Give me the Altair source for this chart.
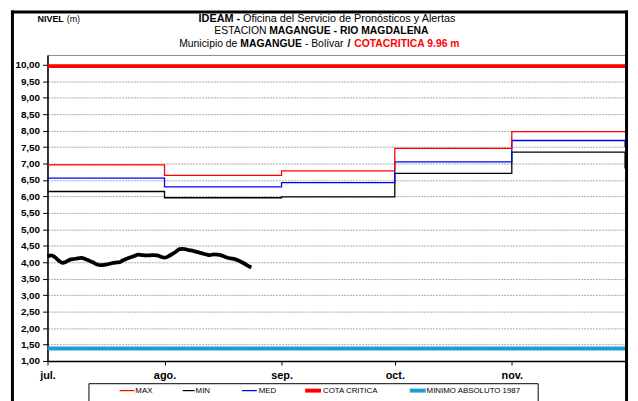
import altair as alt
import pandas as pd

FONT = "Liberation Sans, Arial, sans-serif"
BFONT = "Liberation Sans, Arial, sans-serif"

# ---- data ----
month_days = [0, 31, 62, 92, 123, 153]
month_labels = ["jul.", "ago.", "sep.", "oct.", "nov."]
max_vals = [6.96, 6.64, 6.78, 7.46, 7.97, 7.94]
med_vals = [6.56, 6.29, 6.42, 7.05, 7.70, 7.50]
min_vals = [6.15, 5.96, 5.99, 6.70, 7.35, 6.85]
cota_critica = 9.96
minimo_absoluto = 1.38
observed = [4.18, 4.21, 4.15, 4.05, 3.98, 4.02, 4.08, 4.10, 4.12, 4.13,
            4.10, 4.05, 4.00, 3.94, 3.91, 3.92, 3.94, 3.97, 3.99, 4.00,
            4.06, 4.11, 4.15, 4.19, 4.23, 4.22, 4.21, 4.21, 4.22, 4.21,
            4.17, 4.14, 4.18, 4.25, 4.32, 4.40, 4.41, 4.38, 4.36, 4.33,
            4.30, 4.27, 4.24, 4.22, 4.24, 4.23, 4.21, 4.17, 4.13, 4.11,
            4.08, 4.03, 3.97, 3.90, 3.84]
y_ticks = [1.0 + 0.5 * i for i in range(19)]

# ---- scales / axes ----
label_expr = " : ".join(
    f"datum.value == {d} ? '{l}'" for d, l in zip(month_days[:-1], month_labels)
) + " : ''"

X = alt.X("day:Q",
          scale=alt.Scale(domain=[0, 153], nice=False, zero=False),
          axis=alt.Axis(values=month_days[:-1], labelExpr=label_expr, title=None,
                        grid=False, tickSize=4, tickColor="black", domainColor="black",
                        domainWidth=1.5, labelFont=BFONT, labelFontWeight="bold",
                        labelFontSize=11, labelColor="black", labelPadding=5,
                        labelFlush=False))
Y = alt.Y("value:Q",
          scale=alt.Scale(domain=[1, 10.3], nice=False, zero=False),
          axis=alt.Axis(values=y_ticks,
                        labelExpr="replace(format(datum.value, '.2f'), '.', ',')",
                        title=None, grid=True, gridColor="#a8a8a8", gridDash=[2, 1],
                        gridWidth=1, tickSize=5, tickColor="black",
                        domainColor="black", domainWidth=1.5, labelFont=BFONT,
                        labelFontWeight="bold", labelFontSize=10, labelColor="black",
                        labelPadding=3))


def step_layer(vals, color, width):
    df = pd.DataFrame({"day": month_days, "value": vals})
    return alt.Chart(df).mark_line(color=color, strokeWidth=width,
                                   interpolate="step-after").encode(x=X, y=Y)


def hline(v, color, width):
    df = pd.DataFrame({"day": [0, 153], "value": [v, v]})
    return alt.Chart(df).mark_line(color=color, strokeWidth=width).encode(x=X, y=Y)


obs_df = pd.DataFrame({"day": list(range(len(observed))), "value": observed})
obs = alt.Chart(obs_df).mark_line(color="black", strokeWidth=3.8,
                                  interpolate="monotone").encode(x=X, y=Y)

one = pd.DataFrame({"k": [0]})


def txt(text, x, y, weight="normal", color="black", size=11, align="left", font=FONT):
    return alt.Chart(pd.DataFrame({"t": [text]})).mark_text(
        align=align, baseline="middle", font=font, fontSize=size,
        fontWeight=weight, color=color).encode(
        x=alt.value(x), y=alt.value(y), text="t:N")


def vrule(x, y1, y2, color="black", width=1):
    return alt.Chart(one).mark_rule(color=color, strokeWidth=width).encode(
        x=alt.value(x), y=alt.value(y1), y2=alt.value(y2))


def hrule(x1, x2, y, color="black", width=1):
    return alt.Chart(one).mark_rule(color=color, strokeWidth=width).encode(
        x=alt.value(x1), x2=alt.value(x2), y=alt.value(y))


# outer frame
frame = [
    hrule(-37, 588, -43.5, width=3),
    vrule(-35.5, -45, 360, width=3),
    vrule(586.5, -45, 360, width=3),
]

# titles
titles = [
    txt("NIVEL", -10, -36, weight="bold", size=9),
    txt("(m)", 19.5, -36, size=9),
    txt("IDEAM -", 153, -36, weight="bold", size=11),
    txt("Oficina del Servicio de Pronósticos y Alertas", 198, -36, size=11),
    txt("ESTACION", 169, -24, size=10.5),
    txt("MAGANGUE - RIO MAGDALENA", 224.5, -24, weight="bold", size=10.5),
    txt("Municipio de", 133.4, -11, size=10.5),
    txt("MAGANGUE", 195.3, -11, weight="bold", size=10.5),
    txt("- Bolívar", 260.7, -11, size=10.5),
    txt("/", 303.8, -11, weight="bold", size=10.5),
    txt("COTACRITICA 9.96 m", 310.7, -11, weight="bold", color="#ff0000", size=10.5),
]

# legend
ly = 340
legend_box = alt.Chart(one).mark_rect(fill="white", stroke="black", strokeWidth=1).encode(
    x=alt.value(42), x2=alt.value(497), y=alt.value(333), y2=alt.value(360))
legend = [
    legend_box,
    hrule(73, 88, ly, color="#ff0000", width=1.2), txt("MAX", 89, ly, size=8),
    hrule(137, 149, ly, color="black", width=1.2), txt("MIN", 150, ly, size=8),
    hrule(197, 212, ly, color="#0000ff", width=1.2), txt("MED", 214, ly, size=8),
    hrule(261, 277, ly, color="#ff0000", width=4), txt("COTA CRITICA", 279, ly, size=8),
    hrule(367, 383, ly, color="#1a9fd4", width=4), txt("MINIMO ABSOLUTO 1987", 384, ly, size=8),
]

chart = alt.layer(
    hline(minimo_absoluto, "#1a9fd4", 4),
    hline(cota_critica, "#ff0000", 4),
    step_layer(min_vals, "black", 1.3),
    step_layer(med_vals, "#0000ff", 1.3),
    step_layer(max_vals, "#ff0000", 1.3),
    obs,
    *frame, *titles, *legend,
).properties(
    width=585, height=310,
    autosize="none",
    padding={"left": 40, "top": 45, "right": 5, "bottom": 40},
    background="white",
).configure_view(stroke="#888888", strokeWidth=1)

chart.save("out.html", embed_options={"renderer": "svg", "actions": False})
